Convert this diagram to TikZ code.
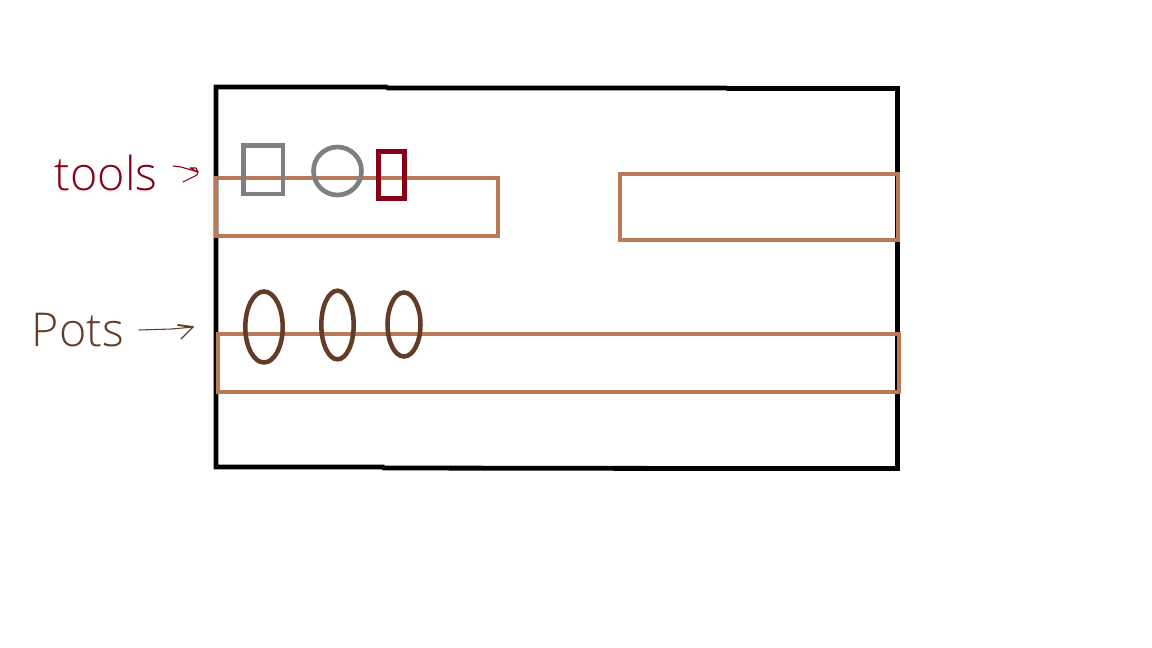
\documentclass[tikz,border=0pt]{standalone}
\usepackage{fontspec}
\setsansfont{Open Sans Light}
\definecolor{frameblack}{RGB}{0,0,0}
\definecolor{shelf}{RGB}{185,122,87}
\definecolor{toolgray}{RGB}{127,127,127}
\definecolor{toolred}{RGB}{136,0,21}
\definecolor{potbrown}{RGB}{98,60,38}
\tikzset{
  frameline/.style={draw=frameblack,line width=3.6pt,line join=miter},
  shelfbox/.style={draw=shelf,line width=3.6pt},
  graytool/.style={draw=toolgray,line width=3.5pt},
  redtool/.style={draw=toolred,line width=3.7pt},
  pot/.style={draw=potbrown,line width=3.4pt},
  handlabel/.style={font=\sffamily\fontsize{35}{35}\selectfont,inner sep=0pt},
  pen/.style={line width=0.8pt,line cap=round,line join=round}
}
\begin{document}
\begin{tikzpicture}[x=0.75pt,y=-0.75pt]
\useasboundingbox (0,0) rectangle (1152,648);
\fill[white] (0,0) rectangle (1152,648);
\draw[frameline] (216,87) -- (386,87) -- (388,88) -- (726,88) -- (728,88.5) -- (897.5,88.5) -- (897.5,468.5) -- (714,468.5) -- (384,468) -- (383,467) -- (216,467) -- cycle;
\draw[shelfbox] (216,178) rectangle (498,236);
\draw[shelfbox] (620,174) rectangle (898,240);
\draw[shelfbox] (218,334) rectangle (899,392);
\draw[graytool] (243.5,145.5) rectangle (283,194);
\draw[graytool] (337.5,171) circle [radius=24];
\draw[redtool] (378.5,151.5) rectangle (404.5,198.5);
\draw[pot] (264,327) ellipse [x radius=18.7, y radius=35.5];
\draw[pot] (337.5,325) ellipse [x radius=16.2, y radius=34.3];
\draw[pot] (404,324.5) ellipse [x radius=16.5, y radius=32];
\node[handlabel,text=toolred] (toolslabel) at (106,173) {tools};
\node[handlabel,text=potbrown] (potslabel) at (78,330) {Pots};
\coordinate (toolsfrom) at (173,166);
\coordinate (toolstip) at (198,172);
\coordinate (potsfrom) at (139,330);
\coordinate (potstip) at (193,327);
\draw[pen,toolred] (toolsfrom) -- (181,167) -- (toolstip) -- (197,175) -- (183,182);
\draw[pen,toolred] (toolstip) -- (190,168) -- (196,168) -- (198,172);
\draw[pen,potbrown] (potsfrom) -- (172,329) -- (potstip) -- (188,332) -- (181,339);
\draw[pen,potbrown,line width=1.4pt] (178,325) -- (potstip);
\end{tikzpicture}
\end{document}
